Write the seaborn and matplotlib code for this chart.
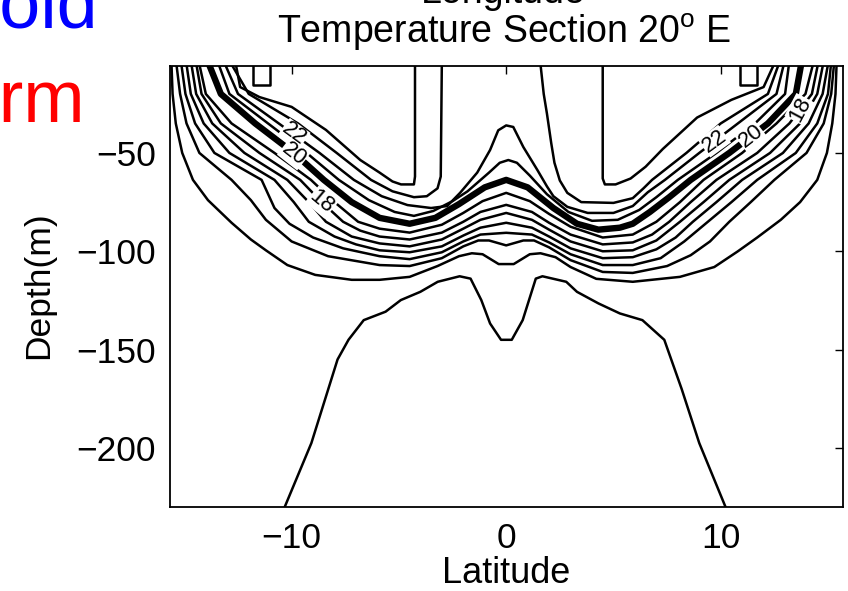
import matplotlib
matplotlib.use("Agg")
import matplotlib.pyplot as plt
import pandas as pd
import seaborn as sns

# Isotherm paths of the 20E temperature section: (latitude, depth in m),
# traced from the western wall, through the equator, to the eastern wall.
ISO_12 = [(-10.4, -232), (-9.08, -197.5), (-7.86, -155), (-7.35, -145), (-6.64, -135),
          (-5.62, -130.7), (-4.91, -124.8), (-4.0, -120.6), (-3.19, -115.5), (-2.17, -112.7),
          (-1.66, -113.9), (-1.16, -124.8), (-0.75, -136.7), (-0.24, -145), (0.26, -145),
          (0.77, -135), (1.38, -113.9), (1.69, -112.7), (2.8, -115.5), (3.3, -120.6),
          (4.3, -126.5), (5.3, -131.6), (6.35, -135), (7.37, -145), (8.18, -170),
          (9.0, -197.5), (10.3, -232)]

ISO_13 = [(-15.6, -5), (-15.55, -20), (-15.4, -35), (-15.1, -50), (-14.6, -63.7), (-13.9, -74),
          (-12.8, -85.5), (-11.9, -94), (-11.2, -99.5), (-10.2, -107), (-8.9, -112), (-7.2, -114.5),
          (-5.9, -114.5), (-4.5, -113), (-3.2, -107.5), (-2.2, -102.5), (-1.6, -101), (-1.1, -101.5),
          (-0.35, -106.5), (0.35, -106.5), (1.1, -101.5), (1.6, -101), (2.3, -103), (3.0, -108),
          (4.2, -114), (5.9, -115.5), (8.1, -113), (9.7, -108), (10.8, -100), (11.7, -93),
          (12.8, -84), (13.7, -75), (14.5, -63.7), (14.95, -50), (15.2, -35), (15.35, -20), (15.4, -5)]

ISO_14 = [(-15.37, -5), (-15.2, -20), (-14.9, -35), (-14.3, -50), (-12.8, -63.7), (-11.9, -74),
          (-11.2, -84), (-10.0, -95), (-8.3, -102.5), (-5.9, -107), (-4.5, -107.5), (-3.0, -103.5),
          (-2.0, -97.5), (-1.3, -94.5), (-0.8, -94.5), (0.0, -97), (0.8, -94.5), (1.3, -94.5),
          (2.0, -98), (3.0, -104.5), (4.5, -110.5), (5.9, -111), (7.5, -107.5), (8.6, -102),
          (9.5, -95), (10.4, -85), (11.4, -75), (12.5, -63.7), (14.0, -50), (14.8, -35),
          (15.15, -20), (15.28, -5)]

ISO_15 = [(-15.14, -5), (-14.95, -20), (-14.5, -35), (-13.6, -50), (-11.4, -63.7), (-10.8, -78),
          (-10.1, -86), (-9.0, -93), (-7.6, -98.5), (-5.9, -102.5), (-4.5, -104), (-3.0, -100.5),
          (-2.0, -95), (-1.2, -91.5), (0.0, -90.6), (1.2, -91.5), (2.0, -95.5), (3.0, -101.5),
          (4.5, -107), (5.9, -107), (7.2, -103.5), (8.3, -95), (9.4, -85), (10.5, -75),
          (11.7, -63.7), (13.5, -50), (14.5, -35), (15.0, -20), (15.14, -5)]

ISO_16 = [(-14.9, -5), (-14.7, -20), (-14.1, -35), (-12.9, -50), (-10.8, -63.7), (-9.9, -75),
          (-9.2, -85), (-8.0, -92.5), (-7.0, -96.5), (-5.9, -99.5), (-4.5, -100.5), (-3.0, -97.5),
          (-2.0, -92), (-1.2, -88), (0.0, -85.5), (1.2, -88), (2.0, -92.5), (3.0, -98.5),
          (4.5, -103.5), (5.9, -103), (7.0, -99), (7.9, -93), (8.7, -85), (9.8, -75),
          (11.0, -63.7), (12.9, -50), (14.1, -35), (14.75, -20), (15.0, -5)]

ISO_17 = [(-14.67, -5), (-14.45, -20), (-13.7, -35), (-12.2, -50), (-10.2, -63.7), (-9.2, -75),
          (-8.4, -85), (-7.2, -92.5), (-5.9, -96), (-4.5, -97.5), (-3.0, -94), (-2.0, -88.5),
          (-1.2, -84), (0.0, -80.5), (1.2, -84), (2.0, -89), (3.0, -95), (4.5, -100),
          (5.9, -99.5), (7.0, -94.5), (8.1, -85), (9.2, -75), (10.4, -63.7), (12.3, -50),
          (13.7, -35), (14.5, -20), (14.77, -5)]

ISO_18 = [(-14.44, -5), (-14.2, -20), (-13.3, -35), (-11.5, -50), (-9.6, -63.7), (-8.6, -75),
          (-7.6, -85), (-6.8, -89.5), (-5.9, -92.5), (-4.5, -94), (-3.0, -90.5), (-2.0, -85),
          (-1.2, -80), (0.0, -76.4), (1.2, -80), (2.0, -85.5), (3.0, -91.5), (4.5, -96.5),
          (5.9, -95.5), (6.8, -91.5), (7.6, -85), (8.6, -75), (9.8, -63.7), (11.7, -50),
          (13.2, -35), (14.25, -20), (14.53, -5)]

ISO_19 = [(-14.3, -5), (-14.0, -20), (-12.8, -35), (-10.8, -50), (-9.1, -63.7), (-8.0, -75),
          (-6.9, -85), (-5.9, -88.5), (-4.5, -90.5), (-3.0, -86.5), (-2.0, -80.5), (-1.1, -74.5),
          (0.0, -70.3), (1.1, -74.5), (2.0, -81), (3.0, -87.5), (4.5, -93), (5.9, -91.5),
          (7.0, -85), (8.1, -75), (9.2, -63.7), (11.0, -50), (12.6, -35), (13.95, -20), (14.3, -5)]

# thermocline core (bunched isotherms)
ISO_20 = [(-13.85, -5), (-13.3, -20), (-11.7, -35), (-9.9, -50), (-8.5, -63.7), (-7.2, -75),
          (-5.9, -83), (-4.5, -86), (-3.3, -83), (-2.2, -76), (-1.0, -67.5), (0.0, -63.7),
          (1.0, -67.5), (2.2, -78), (3.3, -86), (4.3, -89), (5.3, -88), (5.9, -86),
          (6.7, -80), (7.6, -72.5), (8.6, -63.7), (10.4, -50), (12.2, -35), (13.5, -20), (13.75, -5)]

ISO_21 = [(-13.4, -5), (-12.9, -20), (-11.1, -35), (-9.3, -50), (-7.8, -63.7), (-6.4, -74),
          (-5.2, -80), (-4.3, -82), (-3.4, -79.5), (-2.5, -74.5), (-1.8, -69.5), (-0.8, -60),
          (-0.3, -55), (0.1, -53.6), (0.5, -55), (1.1, -61.5), (1.9, -71), (2.9, -80),
          (4.0, -84.5), (5.2, -84), (6.2, -79), (7.0, -72.5), (8.0, -63.7), (9.8, -50),
          (11.6, -35), (13.0, -20), (13.18, -5)]

ISO_22 = [(-13.1, -5), (-12.5, -20), (-10.6, -35), (-8.7, -50), (-7.1, -63.7), (-5.8, -72),
          (-4.6, -76.5), (-3.5, -78), (-2.75, -77), (-2.15, -70.3), (-1.35, -60), (-0.75, -48.5),
          (-0.37, -38.5), (0.0, -36), (0.33, -36.8), (0.8, -47), (1.45, -58.6), (1.9, -67),
          (2.2, -72), (2.85, -77.4), (3.8, -80.5), (5.0, -80.5), (5.9, -77), (6.6, -70),
          (7.4, -63.7), (9.0, -50), (10.8, -35), (12.6, -20), (12.94, -5)]

ISO_23_W = [(-12.8, -5), (-12.0, -20), (-9.7, -35), (-7.9, -50), (-6.3, -63.7), (-5.3, -69.5),
            (-4.3, -72.5), (-3.7, -72), (-3.2, -68), (-3.05, -62), (-3.0, -5)]
ISO_23_E = [(1.6, -5), (1.75, -20), (1.9, -30), (2.1, -45), (2.25, -55), (2.5, -64),
            (2.85, -70.3), (3.5, -75), (5.0, -75.4), (5.9, -73), (6.4, -68), (6.8, -63.7),
            (8.4, -50), (10.0, -35), (12.2, -20), (12.7, -5)]

ISO_24_W = [(-12.6, -5), (-12.4, -16.5), (-11.5, -21.6), (-10.0, -26.6), (-8.4, -38.3),
            (-6.8, -53.6), (-5.9, -60), (-5.3, -64.5), (-4.9, -66), (-4.3, -66), (-4.25, -62),
            (-4.25, -5)]
ISO_24_E = [(4.5, -5), (4.5, -63), (4.6, -66), (5.1, -66), (5.8, -63), (6.5, -57), (7.3, -48),
            (8.9, -32), (10.5, -23), (12.0, -16.5), (12.48, -5)]

ISO_25_W = [(-11.8, -5), (-11.8, -15.5), (-11.0, -15.5), (-11.0, -5)]
ISO_25_E = [(10.9, -5), (10.9, -15.5), (11.7, -15.5), (11.7, -5)]

# inline contour labels: (temperature, latitude, depth, text angle)
LABELS = [(22, -9.9, -40.5, -36), (20, -9.9, -50.5, -38), (18, -8.6, -75.0, -40),
          (22, 9.7, -44.0, 36), (20, 11.4, -41.5, 38), (18, 13.7, -27.9, 62)]

X_TICKS = [-10, 0, 10]
Y_TICKS = [-200, -150, -100, -50]

thin_paths = [(12, "12", ISO_12), (13, "13", ISO_13), (14, "14", ISO_14), (15, "15", ISO_15),
              (16, "16", ISO_16), (17, "17", ISO_17), (18, "18", ISO_18), (19, "19", ISO_19),
              (21, "21", ISO_21), (22, "22", ISO_22), (23, "23w", ISO_23_W), (23, "23e", ISO_23_E),
              (24, "24w", ISO_24_W), (24, "24e", ISO_24_E), (25, "25w", ISO_25_W),
              (25, "25e", ISO_25_E)]

rows = []
for temp, seg, path in thin_paths:
    for la, de in path:
        rows.append({"temp": temp, "segment": seg, "lat": la, "depth": de})
thin_df = pd.DataFrame(rows)
core_df = pd.DataFrame([{"temp": 20, "segment": "20", "lat": la, "depth": de} for la, de in ISO_20])

sns.set_theme(style="white")
plt.rcParams["font.family"] = ["Liberation Sans", "DejaVu Sans"]
plt.rcParams["mathtext.fontset"] = "custom"
plt.rcParams["mathtext.rm"] = "Liberation Sans"
plt.rcParams["axes.unicode_minus"] = True

fig = plt.figure(figsize=(8.48, 5.91), dpi=100)
ax = fig.add_axes([170 / 848, 1 - 507 / 591, 673 / 848, 441 / 591])

sns.lineplot(data=thin_df, x="lat", y="depth", units="segment", estimator=None, sort=False,
             color="black", linewidth=1.8, ax=ax, legend=False)
sns.lineplot(data=core_df, x="lat", y="depth", units="segment", estimator=None, sort=False,
             color="black", linewidth=4.6, ax=ax, legend=False)

for temp, la, de, ang in LABELS:
    ax.text(la, de, f"{temp}", fontsize=16, ha="center", va="center", rotation=ang,
            rotation_mode="anchor", color="black", zorder=6,
            bbox=dict(boxstyle="square,pad=0.02", fc="white", ec="none"))

ax.set_xlim(-15.67, 15.7)
ax.set_ylim(-230, -5.8)
ax.set_xticks(X_TICKS)
ax.set_yticks(Y_TICKS)
ax.tick_params(axis="both", which="both", direction="in", length=6, width=1.0,
               top=True, right=True, labelsize=25.5, colors="black")
ax.tick_params(axis="x", pad=11)
ax.tick_params(axis="y", pad=10)
for sp in ax.spines.values():
    sp.set_visible(True)
    sp.set_color("black")
    sp.set_linewidth(1.3)
ax.set_facecolor("white")

ax.set_xlabel("Latitude", fontsize=26, color="black", va="baseline")
ax.xaxis.set_label_coords(0.5, (507 - 583) / 441)
ax.set_ylabel("Depth(m)", fontsize=25.5, color="black", va="center", ha="center")
ax.yaxis.set_label_coords((39 - 170) / 673, 0.503)

fig.text(0.594, 1 - 43 / 591, r"Temperature Section 20$^{\rm o}$ E", fontsize=27,
         ha="center", va="baseline", color="black")
fig.text(0.594, 1 - 3 / 591, "Longitude", fontsize=27, ha="center", va="baseline",
         color="black")

fig.text(-54 / 848, 1 - 28 / 591, "Cold", fontsize=53, color="#0000ff", ha="left", va="baseline")
fig.text(-108 / 848, 1 - 122 / 591, "Warm", fontsize=53, color="#ff0000", ha="left", va="baseline")

fig.savefig("out.png", dpi=100, facecolor="white")
